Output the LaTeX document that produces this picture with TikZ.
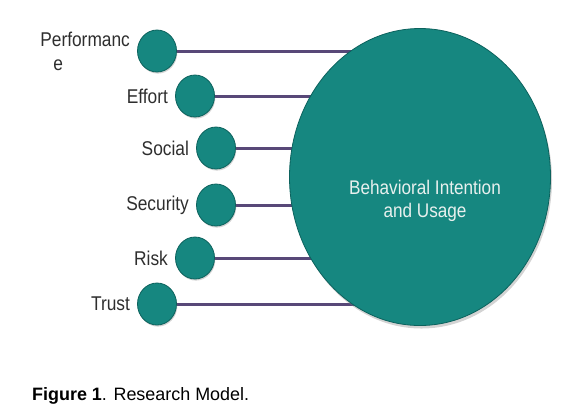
\documentclass[tikz,border=0pt]{standalone}
\usepackage{fontspec}
\setmainfont{Liberation Sans}
\newfontfamily\narrowsans[FakeStretch=0.87]{Liberation Sans}
\usepackage{xcolor}
\usepackage{tikz}
\usetikzlibrary{positioning, shapes.geometric, shadows, backgrounds}

\definecolor{modelteal}{RGB}{22,135,128}
\definecolor{modeledge}{RGB}{12,98,93}
\definecolor{linkpurple}{RGB}{88,72,120}
\definecolor{innertext}{RGB}{232,240,238}

\begin{document}
\begin{tikzpicture}[x=1bp, y=-1bp,
    factor/.style={ellipse, minimum width=39bp, minimum height=42bp, inner sep=0pt,
        fill=modelteal, draw=modeledge, line width=0.8bp,
        drop shadow={shadow xshift=0.8bp, shadow yshift=-1.6bp, opacity=0.35}},
    factorname/.style={font=\narrowsans\fontsize{20}{24}\selectfont, inner sep=0pt, text=black!82},
    link/.style={draw=linkpurple, line width=3bp}]

    % =================================================================
    % 1. KHUNG HINH
    % =================================================================
    \useasboundingbox (0,0) rectangle (576,414);

    % =================================================================
    % 2. HINH ELIP LON (BIEN PHU THUOC)
    % =================================================================
    \node[ellipse, minimum width=261bp, minimum height=297bp, inner sep=0pt,
        fill=modelteal, draw=modeledge, line width=0.8bp,
        drop shadow={shadow xshift=1.5bp, shadow yshift=-3bp, opacity=0.35}] (biu) at (420,177) {};
    \node[font=\narrowsans\fontsize{19.8}{23}\selectfont, text=innertext, align=center] (biutext) at (425,201)
        {Behavioral Intention\\and Usage};

    % =================================================================
    % 3. CAC VONG TRON NHO (BIEN DOC LAP)
    % =================================================================
    \node[factor] (perf) at (157,51) {};
    \node[factor] (effort) at (195,96) {};
    \node[factor] (social) at (216,148) {};
    \node[factor] (security) at (216,205) {};
    \node[factor] (risk) at (195,258) {};
    \node[factor] (trust) at (157,304) {};

    % =================================================================
    % 4. NHAN CUA TUNG BIEN
    % =================================================================
    \node[factorname, align=left, left=7bp of perf] (perflabel) {Performanc\\\hspace*{13bp}e};
    \node[factorname, left=7bp of effort] (effortlabel) {Effort};
    \node[factorname, left=7bp of social] (sociallabel) {Social};
    \node[factorname, left=7bp of security] (securitylabel) {Security};
    \node[factorname, left=7bp of risk] (risklabel) {Risk};
    \node[factorname, left=7bp of trust] (trustlabel) {Trust};

    % =================================================================
    % 5. DUONG NOI (VE PHIA SAU)
    % =================================================================
    \begin{pgfonlayer}{background}
        \foreach \f in {perf, effort, social, security, risk, trust}
            \draw[link] (\f) -- (\f -| biu);
    \end{pgfonlayer}

    % =================================================================
    % 6. CHU THICH HINH
    % =================================================================
    \node[anchor=base west, inner sep=0pt, font=\fontsize{18}{21}\selectfont] (caption) at (32,400)
        {\textbf{Figure 1}. Research Model.};

\end{tikzpicture}
\end{document}
